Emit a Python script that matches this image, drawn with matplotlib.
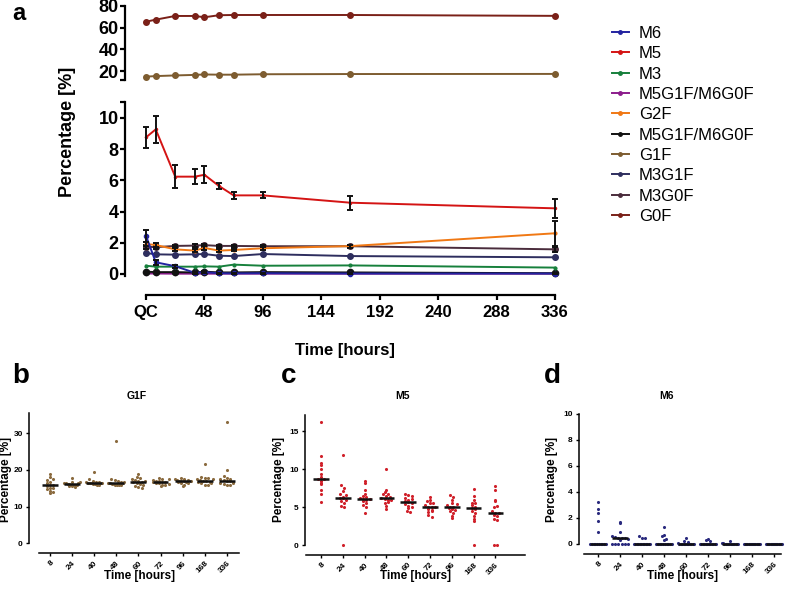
import matplotlib
matplotlib.use("Agg")
import matplotlib.pyplot as plt
import numpy as np
from matplotlib.lines import Line2D

plt.rcParams['font.family'] = ['Liberation Sans', 'DejaVu Sans']
plt.rcParams['font.weight'] = 'bold'

# ---------------- data: panel a ----------------
hours = [0, 8, 24, 40, 48, 60, 72, 96, 168, 336]
x_ticks = [0, 48, 96, 144, 192, 240, 288, 336]
x_ticklabels = ['QC', '48', '96', '144', '192', '240', '288', '336']

G0F = [65.5, 67.4, 70.8, 70.8, 69.6, 71.5, 71.7, 71.7, 71.7, 70.9]
G1F = [14.8, 15.3, 15.9, 16.4, 16.8, 16.6, 16.6, 17.0, 17.2, 17.3]
M5 = [8.76, 9.27, 6.24, 6.24, 6.36, 5.64, 5.04, 5.04, 4.57, 4.21]
M5_err = [0.69, 0.86, 0.75, 0.50, 0.55, 0.21, 0.22, 0.20, 0.45, 0.62]
G2F = [1.92, 1.86, 1.58, 1.50, 1.67, 1.50, 1.54, 1.65, 1.79, 2.61]
G2F_err = [0.15, 0.12, 0.10, 0.08, 0.10, 0.08, 0.08, 0.08, 0.10, 0.80]
M3G0F = [1.75, 1.72, 1.80, 1.82, 1.85, 1.80, 1.80, 1.78, 1.78, 1.58]
M3G0F_err = [0.12, 0.12, 0.08, 0.10, 0.10, 0.08, 0.08, 0.06, 0.08, 0.15]
M3G1F = [1.35, 1.26, 1.24, 1.26, 1.28, 1.17, 1.15, 1.28, 1.15, 1.07]
M3 = [0.53, 0.47, 0.47, 0.47, 0.49, 0.47, 0.60, 0.53, 0.55, 0.41]
M6 = [2.45, 0.75, 0.50, 0.08, 0.12, 0.05, 0.04, 0.05, 0.03, 0.03]
M6_err = [0.40, 0.15, 0.10, 0.05, 0.05, 0.03, 0.03, 0.03, 0.02, 0.02]
M5G1F_black = [0.15, 0.12, 0.12, 0.10, 0.15, 0.10, 0.10, 0.12, 0.10, 0.05]
M5G1F_purple = [0.03, 0.03, 0.02, 0.02, 0.02, 0.02, 0.02, 0.02, 0.02, 0.02]

# ---------------- data: panels b-d ----------------
cat_labels = ['8', '24', '40', '48', '60', '72', '96', '168', '336']
g1f_cols = [
    [18.8, 18.0, 17.2, 16.8, 16.3, 16.0, 15.8, 15.5, 15.2, 15.0, 14.8, 14.3, 14.0, 13.8, 17.5],
    [17.8, 16.8, 16.5, 16.3, 16.2, 16.1, 16.0, 16.0, 15.9, 15.8, 15.7, 15.5, 15.3, 16.4, 16.6],
    [19.5, 17.5, 17.0, 16.8, 16.6, 16.5, 16.4, 16.3, 16.2, 16.1, 16.0, 15.8, 16.3, 16.7, 16.5],
    [28.0, 17.5, 17.2, 17.0, 16.8, 16.5, 16.3, 16.2, 16.1, 16.0, 16.0, 15.9, 15.8, 16.4, 16.6],
    [19.0, 18.0, 17.5, 17.3, 17.0, 16.8, 16.6, 16.5, 16.2, 15.8, 15.5, 15.3, 15.2, 16.9, 17.8],
    [17.9, 17.6, 17.3, 17.1, 16.9, 16.8, 16.7, 16.6, 16.5, 16.3, 16.0, 15.8, 15.6, 17.5, 16.2],
    [17.8, 17.6, 17.4, 17.2, 17.0, 17.0, 16.9, 16.8, 16.6, 16.3, 16.0, 15.6, 17.3, 17.1, 16.5],
    [21.5, 18.0, 17.8, 17.5, 17.2, 17.0, 16.9, 16.8, 16.6, 16.3, 16.0, 15.8, 17.9, 17.4, 16.5],
    [33.0, 20.0, 18.3, 17.8, 17.5, 17.2, 17.1, 17.0, 16.8, 16.5, 16.2, 16.0, 16.0, 17.6, 16.4],
]
m5_cols = [
    [16.2, 11.8, 10.8, 10.5, 10.0, 9.4, 9.0, 8.7, 8.5, 8.2, 7.3, 6.8, 5.7, 8.7, 8.0],
    [11.9, 7.9, 7.6, 7.2, 6.7, 6.4, 6.2, 6.2, 5.8, 5.5, 5.2, 5.0, 0.0, 6.0, 6.6],
    [8.5, 8.2, 7.3, 6.8, 6.5, 6.2, 6.1, 6.0, 5.8, 5.3, 5.0, 4.3, 6.1, 5.6, 6.4],
    [10.0, 7.3, 7.0, 6.7, 6.5, 6.3, 6.2, 6.1, 5.9, 5.5, 5.2, 4.8, 6.0, 6.8, 5.7],
    [6.7, 6.6, 6.5, 6.2, 6.0, 5.8, 5.7, 5.6, 5.4, 5.2, 4.9, 4.5, 4.4, 6.1, 5.0],
    [6.3, 6.0, 5.8, 5.5, 5.3, 5.1, 5.0, 5.0, 4.8, 4.6, 4.4, 4.0, 3.7, 5.6, 4.5],
    [6.6, 6.3, 5.9, 5.6, 5.3, 5.1, 5.0, 4.9, 4.8, 4.5, 4.2, 3.9, 3.6, 5.4, 4.6],
    [7.4, 6.5, 6.0, 5.6, 5.3, 5.0, 4.9, 4.8, 4.5, 4.2, 3.8, 3.5, 3.2, 0.0, 5.5],
    [7.8, 7.3, 6.0, 5.8, 5.0, 4.5, 4.2, 4.2, 4.0, 3.8, 3.5, 3.3, 0.0, 0.0, 5.2],
]
m6_cols = [
    [3.2, 2.7, 2.4, 1.8, 0.9] + [0.0] * 10,
    [1.7, 1.6, 0.9, 0.6, 0.55, 0.5, 0.5, 0.45, 0.4, 0.3] + [0.0] * 6,
    [0.6, 0.5, 0.45] + [0.0] * 12,
    [1.3, 0.7, 0.6, 0.4, 0.3] + [0.0] * 10,
    [0.5, 0.2, 0.15, 0.1] + [0.0] * 11,
    [0.4, 0.3, 0.25] + [0.0] * 12,
    [0.25, 0.1, 0.1] + [0.0] * 12,
    [0.0] * 15,
    [0.0] * 15,
]

# ---------------- figure ----------------
W, H = 787, 590
fig = plt.figure(figsize=(W / 100, H / 100), dpi=100)


def add_ax(l, r, t, b):
    return fig.add_axes([l / W, 1 - b / H, (r - l) / W, (b - t) / H])


C = {
    'M6': '#2323a0', 'M5': '#d41414', 'M3': '#17803c', 'M5G1Fp': '#8c1c8c',
    'G2F': '#f07814', 'M5G1Fk': '#111111', 'G1F': '#7d5c30', 'M3G1F': '#2e2e5e',
    'M3G0F': '#4a2c3c', 'G0F': '#7a2018',
}

# panel a geometry (pixels)
x0px, xpx_per = 146.0, (555.0 - 146.0) / 336.0
left_px, right_px = 125, 566
xlim = ((left_px - x0px) / xpx_per, (right_px - x0px) / xpx_per)

ax_top = add_ax(left_px, right_px, 4, 82)
top_ppu = 65.0 / 60.0
ax_top.set_ylim(20 - (82 - 71) / top_ppu, 80 + (6 - 4) / top_ppu)
ax_top.set_xlim(*xlim)

ax_bot = add_ax(left_px, right_px, 100, 295)
bot_ppu = 15.6
ax_bot.set_ylim((274 - 295) / bot_ppu, (274 - 100) / bot_ppu)
ax_bot.set_xlim(*xlim)

for ax in (ax_top, ax_bot):
    ax.spines['top'].set_visible(False)
    ax.spines['right'].set_visible(False)
    ax.spines['left'].set_linewidth(1.6)
    ax.spines['bottom'].set_linewidth(1.6)
    ax.tick_params(width=1.6, length=3.5, direction='out')
    ax.patch.set_alpha(0)

ax_top.spines['bottom'].set_visible(False)
ax_top.set_xticks([])
ax_top.spines['left'].set_bounds(12, 80)
ax_top.set_yticks([12, 20, 40, 60, 80])
ax_top.set_yticklabels(['', '20', '40', '60', '80'], fontsize=13, fontweight='bold')
ax_top.tick_params(axis='y', pad=1)

ax_bot.spines['left'].set_bounds(-0.1, 11)
ax_bot.spines['bottom'].set_bounds(0, 336)
ax_bot.set_yticks([0, 2, 4, 6, 8, 10, 11])
ax_bot.set_yticklabels(['0', '2', '4', '6', '8', '10', ''], fontsize=13, fontweight='bold')
ax_bot.tick_params(axis='y', pad=1)
ax_bot.set_xticks(x_ticks)
ax_bot.set_xticklabels(x_ticklabels, fontsize=12, fontweight='bold')
ax_bot.tick_params(axis='x', pad=4)

lw = 1.4
handles = {}


def series(ax, y, key, err=None, ms=3.5, marker='o', z=3):
    ln, = ax.plot(hours, y, color=C[key], lw=lw, marker=marker, ms=ms,
                  mec=C[key], mfc=C[key], zorder=z, clip_on=False)
    if err is not None:
        ax.errorbar(hours, y, yerr=err, fmt='none', ecolor='#111111',
                    elinewidth=1.4, capsize=2.5, capthick=1.4, zorder=z + 0.5,
                    clip_on=False)
    handles[key] = ln


series(ax_top, G0F, 'G0F', ms=4)
series(ax_top, G1F, 'G1F', ms=4)

series(ax_bot, M5G1F_purple, 'M5G1Fp', ms=1.5, z=2)
series(ax_bot, M5G1F_black, 'M5G1Fk', ms=4.5, z=3)
series(ax_bot, M3, 'M3', ms=2, z=3)
series(ax_bot, M3G1F, 'M3G1F', ms=4, z=3)
series(ax_bot, M3G0F, 'M3G0F', err=M3G0F_err, ms=4, z=3)
series(ax_bot, G2F, 'G2F', err=G2F_err, ms=2, z=4)
series(ax_bot, M6, 'M6', err=M6_err, ms=3, z=5)
series(ax_bot, M5, 'M5', err=M5_err, ms=1.5, z=6)

legend_order = [('M6', 'M6'), ('M5', 'M5'), ('M3', 'M3'), ('M5G1Fp', 'M5G1F/M6G0F'),
                ('G2F', 'G2F'), ('M5G1Fk', 'M5G1F/M6G0F'), ('G1F', 'G1F'),
                ('M3G1F', 'M3G1F'), ('M3G0F', 'M3G0F'), ('G0F', 'G0F')]
leg_handles = [Line2D([], [], color=C[k], lw=1.4, marker='o', ms=2.5) for k, _ in legend_order]
fig.legend(leg_handles, [lab for _, lab in legend_order], loc='upper left',
           bbox_to_anchor=(612 / W, 1 - 26 / H), frameon=False,
           prop={'family': 'Liberation Sans', 'weight': 'normal', 'size': 12},
           handlelength=1.0, handletextpad=0.6, labelspacing=0.32, borderpad=0,
           borderaxespad=0)

fig.text(12 / W, 1 - 19.5 / H, 'a', fontsize=17, fontweight='bold', ha='left', va='baseline')
fig.text(68 / W, 1 - 132 / H, 'Percentage [%]', rotation=90, fontsize=13,
         fontweight='bold', ha='center', va='center')
fig.text(345 / W, 1 - 350 / H, 'Time [hours]', fontsize=12, fontweight='bold',
         ha='center', va='center')


# ---------------- panels b-d ----------------
def swarm_offsets(vals, ppu, d=3.3, maxw=8.0):
    vals = np.asarray(vals, float)
    rows = np.round(vals * ppu / d).astype(int)
    offs = np.zeros(len(vals))
    for r in np.unique(rows):
        idx = np.where(rows == r)[0]
        n = len(idx)
        if n == 1:
            continue
        step = min(d, 2 * maxw / (n - 1))
        for k, i in enumerate(idx):
            offs[i] = (k - (n - 1) / 2) * step
    return offs


title_letter = {'G1F': 'b', 'M5': 'c', 'M6': 'd'}


def scatter_panel(cols, color, ax_left, first_cat, spacing, spine_l, spine_r,
                  y0px, ppu, ytop_px, xaxis_px, yticks, title, title_x, letter_x,
                  ylab_x):
    right_px = spine_r + 2
    ax = add_ax(ax_left, right_px, ytop_px - 2, xaxis_px)
    ax.set_xlim((ax_left - first_cat) / spacing, (right_px - first_cat) / spacing)
    ax.set_ylim((y0px - xaxis_px) / ppu, (y0px - (ytop_px - 2)) / ppu)
    ytop_val = (y0px - ytop_px) / ppu
    for i, col in enumerate(cols):
        offs = swarm_offsets(col, ppu) / spacing
        ax.scatter(i + offs, col, s=5, color=color, linewidths=0, zorder=2, clip_on=False)
        med = float(np.median(col))
        ax.plot([i - 0.36, i + 0.36], [med, med], color='#111111', lw=1.8,
                solid_capstyle='butt', zorder=3)
    ax.spines['top'].set_visible(False)
    ax.spines['right'].set_visible(False)
    ax.spines['left'].set_linewidth(1.1)
    ax.spines['bottom'].set_linewidth(1.1)
    ax.spines['left'].set_bounds(0, ytop_val)
    ax.spines['bottom'].set_bounds((spine_l - first_cat) / spacing, (spine_r - first_cat) / spacing)
    ax.set_yticks(yticks)
    ax.set_yticklabels([str(t) for t in yticks], fontsize=6, fontweight='bold')
    ax.set_xticks(range(len(cat_labels)))
    ax.set_xticklabels(cat_labels, fontsize=6, fontweight='bold', rotation=45,
                       ha='right', rotation_mode='anchor')
    ax.tick_params(width=1.0, length=2.5, pad=2)
    ax.patch.set_alpha(0)
    cx = (spine_l + spine_r) / 2
    fig.text(title_x / W, 1 - 396 / H, title, fontsize=7.5, fontweight='bold',
             ha='center', va='center')
    fig.text(cx / W, 1 - 576 / H, 'Time [hours]', fontsize=8.5, fontweight='bold',
             ha='center', va='center')
    fig.text(ylab_x / W, 1 - 479 / H, 'Percentage [%]', rotation=90, fontsize=8.5,
             fontweight='bold', ha='center', va='center')
    fig.text(letter_x / W, 1 - 383 / H, title_letter[title], fontsize=20,
             fontweight='bold', ha='left', va='baseline')
    return ax


scatter_panel(g1f_cols, '#8a6a3e', 29, 50, 22.1, 39, 239, 543.3, 3.67, 413, 553.3,
              [0, 10, 20, 30], 'G1F', 137, 12, 6)
scatter_panel(m5_cols, '#d0202a', 305, 321, 21.8, 306, 525, 545.3, 7.6, 415, 555,
              [0, 5, 10, 15], 'M5', 402, 281, 279)
scatter_panel(m6_cols, '#2a2a7e', 579, 598, 22.0, 584, 781, 544, 13.0, 414, 554.3,
              [0, 2, 4, 6, 8, 10], 'M6', 667, 544, 552)

fig.savefig('out.png', dpi=100)
